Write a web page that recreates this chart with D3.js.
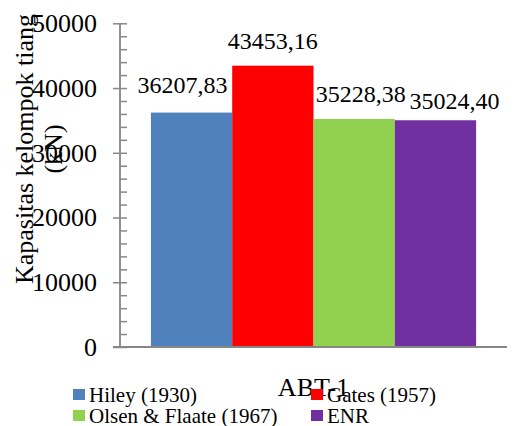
<!DOCTYPE html>
<html>
<head>
<meta charset="utf-8">
<script src="https://cdn.jsdelivr.net/npm/d3@7/dist/d3.min.js"></script>
<style>
  html, body { margin: 0; padding: 0; background: #fff; }
  svg { display: block; }
  text { font-family: "Liberation Serif", "Times New Roman", serif; fill: #000; }
</style>
</head>
<body>
<svg id="chart" width="521" height="426"></svg>
<script>
// Pile group capacity for ABT-1 by four dynamic formulas
const categories = ["ABT-1"];
const seriesNames = ["Hiley (1930)", "Gates (1957)", "Olsen & Flaate (1967)", "ENR"];
const seriesValues = [36207.83, 43453.16, 35228.38, 35024.40];
const valueLabels = ["36207,83", "43453,16", "35228,38", "35024,40"];
const yTicks = [0, 10000, 20000, 30000, 40000, 50000];

const colors = ["#4F81BD", "#FF0000", "#92D050", "#7030A0"];
// small label nudges [dx, gap above bar]
const labelNudge = [[-9, 20], [0, 17], [6.5, 17], [19, 11]];

const svg = d3.select("#chart");
const plot = { left: 120, right: 507, top: 23.3, bottom: 347 };

const y = d3.scaleLinear().domain([0, 50000]).range([plot.bottom, plot.top]);
const x0 = d3.scaleBand().domain(categories)
  .range([plot.left, plot.right]).paddingInner(0).paddingOuter(0.095);
const x1 = d3.scaleBand().domain(seriesNames)
  .range([0, x0.bandwidth()]).padding(0);

const axisColor = "#878787";

// bars
const g = svg.append("g");
categories.forEach(cat => {
  seriesNames.forEach((s, i) => {
    g.append("rect")
      .attr("x", x0(cat) + x1(s))
      .attr("y", y(seriesValues[i]))
      .attr("width", x1.bandwidth())
      .attr("height", y(0) - y(seriesValues[i]))
      .attr("fill", colors[i]);
  });
});

// y axis: major ticks with labels on the left
const yAxisLeft = d3.axisLeft(y).tickValues(yTicks).tickSize(7).tickPadding(16)
  .tickFormat(d3.format("d"));
const ga = svg.append("g").attr("transform", `translate(${plot.left},0)`).call(yAxisLeft);
ga.attr("font-family", null);
ga.select(".domain").remove();
ga.selectAll("line").attr("stroke", axisColor).attr("stroke-width", 1.5);
ga.selectAll("text").style("font-size", "26px").attr("fill", "#000");

// minor ticks every 2000 on the right side
const minor = d3.range(0, 50001, 2000);
const gm = svg.append("g").attr("transform", `translate(${plot.left},0)`)
  .call(d3.axisRight(y).tickValues(minor).tickSize(7).tickFormat(""));
gm.select(".domain").remove();
gm.selectAll("line").attr("stroke", axisColor).attr("stroke-width", 1.5);

// axis lines
svg.append("line")
  .attr("x1", plot.left).attr("x2", plot.left)
  .attr("y1", y(50000)).attr("y2", y(0))
  .attr("stroke", axisColor).attr("stroke-width", 1.8);
svg.append("line")
  .attr("x1", plot.left - 7).attr("x2", plot.right)
  .attr("y1", y(0)).attr("y2", y(0))
  .attr("stroke", axisColor).attr("stroke-width", 1.8);

// value labels
categories.forEach(cat => {
  seriesNames.forEach((s, i) => {
    svg.append("text")
      .attr("x", x0(cat) + x1(s) + x1.bandwidth() / 2 + labelNudge[i][0])
      .attr("y", y(seriesValues[i]) - labelNudge[i][1])
      .attr("text-anchor", "middle")
      .style("font-size", "24px")
      .text(valueLabels[i]);
  });
});

// y axis title
const yt = svg.append("text")
  .attr("transform", "translate(33,149) rotate(-90)")
  .attr("text-anchor", "middle")
  .style("font-size", "26px");
yt.append("tspan").attr("x", 0).attr("dy", 0).text("Kapasitas kelompok tiang");
yt.append("tspan").attr("x", 0).attr("dy", 29).text("(kN)");

// category label
categories.forEach(cat => {
  svg.append("text")
    .attr("x", x0(cat) + x0.bandwidth() / 2)
    .attr("y", 396)
    .attr("text-anchor", "middle")
    .style("font-size", "26px")
    .text(cat);
});

// legend, two columns
const legendCols = [73, 311];
const legendRows = [389, 410];
seriesNames.forEach((s, i) => {
  const lx = legendCols[i % 2];
  const ly = legendRows[Math.floor(i / 2)];
  const lg = svg.append("g");
  lg.append("rect").attr("x", lx).attr("y", ly).attr("width", 12).attr("height", 11)
    .attr("fill", colors[i]);
  lg.append("text").attr("x", lx + 16).attr("y", ly + 12.5)
    .style("font-size", "21px").text(s);
});
</script>
</body>
</html>
